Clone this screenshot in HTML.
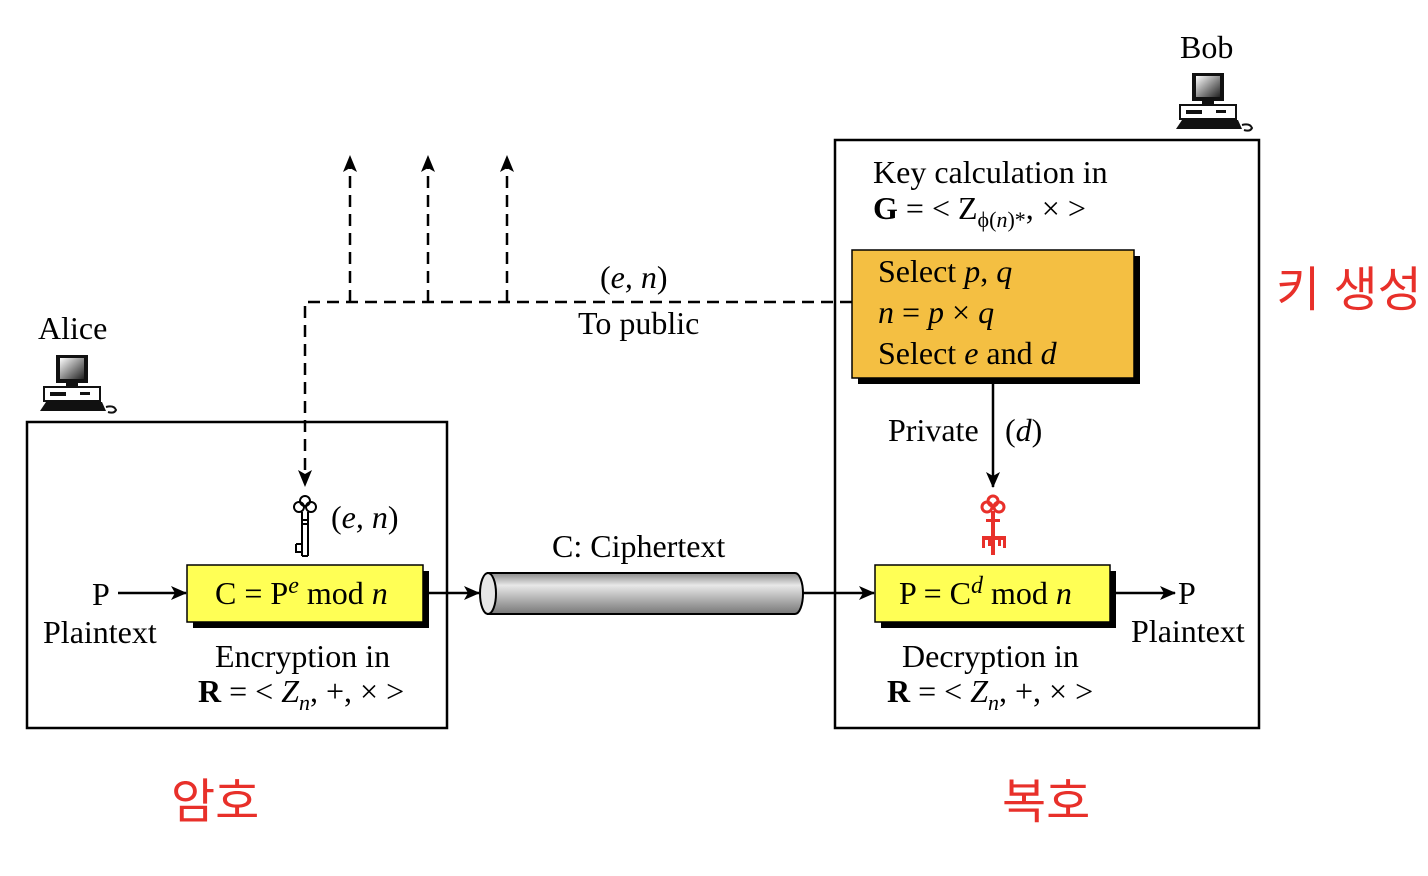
<!DOCTYPE html>
<html><head><meta charset="utf-8"><style>
html,body{margin:0;padding:0;background:#fff;}
svg{display:block;}
text{font-family:"Liberation Serif",serif;font-size:32px;fill:#000;}
.k{font-family:"Liberation Sans","Noto Sans CJK KR","NanumGothic",sans-serif;font-size:48px;fill:#e8302a;}
</style></head><body>
<svg width="1428" height="876" viewBox="0 0 1428 876" xmlns="http://www.w3.org/2000/svg">
<defs>
<marker id="ah" markerWidth="10" markerHeight="10" refX="9" refY="5" orient="auto" markerUnits="userSpaceOnUse">
<path d="M0,0 L10,5 L0,10 L3,5 z" fill="#000"/></marker>
<marker id="ah2" markerWidth="16" markerHeight="14" refX="15" refY="7" orient="auto" markerUnits="userSpaceOnUse">
<path d="M0,0 L16,7 L0,14 L4,7 z" fill="#000"/></marker>
<linearGradient id="cyl" x1="0" y1="0" x2="0" y2="1">
<stop offset="0" stop-color="#8a8a8a"/><stop offset="0.3" stop-color="#e8e8e8"/><stop offset="1" stop-color="#777"/></linearGradient>
<linearGradient id="scr" x1="0" y1="0" x2="1" y2="1">
<stop offset="0" stop-color="#fff"/><stop offset="1" stop-color="#222"/></linearGradient>
<g id="pc">
<rect x="16" y="0" width="32" height="28" fill="#111"/>
<rect x="20" y="3" width="24" height="21" fill="url(#scr)"/>
<rect x="26" y="28" width="12" height="4" fill="#111"/>
<rect x="4" y="32" width="56" height="14" fill="#fff" stroke="#111" stroke-width="2"/>
<rect x="10" y="37" width="16" height="4" fill="#111"/>
<rect x="40" y="37" width="10" height="3" fill="#111"/>
<path d="M0,56 L6,47 L62,47 L66,56 z" fill="#111"/>
<path d="M66,52 q8,-2 10,3 q-2,4 -8,2" fill="none" stroke="#111" stroke-width="2"/>
</g>
</defs>

<rect x="27" y="422" width="420" height="306" fill="none" stroke="#000" stroke-width="2.5"/>
<rect x="835" y="140" width="424" height="588" fill="none" stroke="#000" stroke-width="2.5"/>

<use href="#pc" x="40" y="355"/>
<use href="#pc" x="1176" y="73"/>
<text x="38" y="339">Alice</text>
<text x="1180" y="58">Bob</text>

<g stroke="#000" stroke-width="2.5" stroke-dasharray="12,7" fill="none">
<path d="M852,302 H305 V478"/>
<path d="M350,302 V165"/>
<path d="M428,302 V165"/>
<path d="M507,302 V165"/>
</g>
<g fill="#000">
<path d="M343,172 L350,155 L357,172 L350,168 z"/>
<path d="M421,172 L428,155 L435,172 L428,168 z"/>
<path d="M500,172 L507,155 L514,172 L507,168 z"/>
<path d="M298,470 L305,487 L312,470 L305,474 z"/>
</g>
<text x="600" y="288">(<tspan font-style="italic">e, n</tspan>)</text>
<text x="578" y="334">To public</text>

<text x="873" y="183">Key calculation in</text>
<text x="873" y="219"><tspan font-weight="bold">G</tspan> = &lt; Z<tspan font-size="22" dy="8">ϕ(<tspan font-style="italic">n</tspan>)*</tspan><tspan dy="-8">, × &gt;</tspan></text>
<rect x="858" y="256" width="282" height="128" fill="#000"/>
<rect x="852" y="250" width="282" height="128" fill="#f4bf42" stroke="#000" stroke-width="1.5"/>
<text x="878" y="282">Select <tspan font-style="italic">p</tspan>, <tspan font-style="italic">q</tspan></text>
<text x="878" y="323" font-style="italic">n <tspan font-style="normal">=</tspan> p <tspan font-style="normal">×</tspan> q</text>
<text x="878" y="364">Select <tspan font-style="italic">e</tspan> and <tspan font-style="italic">d</tspan></text>

<line x1="993" y1="384" x2="993" y2="487" stroke="#000" stroke-width="2.5" marker-end="url(#ah2)"/>
<text x="888" y="441">Private</text>
<text x="1005" y="441">(<tspan font-style="italic">d</tspan>)</text>

<g fill="none" stroke="#e8302a" stroke-width="3">
<circle cx="987" cy="507" r="5"/><circle cx="999" cy="507" r="5"/><circle cx="993" cy="501" r="5"/>
</g>
<g fill="#e8302a">
<rect x="991" y="511" width="4" height="44"/>
<rect x="986" y="519" width="14" height="3"/>
<rect x="982" y="536" width="24" height="4"/>
<rect x="982" y="540" width="3" height="8"/><rect x="988" y="540" width="3" height="6"/><rect x="998" y="540" width="3" height="6"/><rect x="1003" y="540" width="3" height="8"/>
</g>

<g fill="none" stroke="#000" stroke-width="2">
<circle cx="299" cy="507" r="5"/><circle cx="311" cy="507" r="5"/><circle cx="305" cy="501" r="5"/>
<path d="M302,512 V556 M308,512 V556 M302,556 H308"/>
<path d="M301,520 H309 M301,524 H309 M296,544 H302 M296,544 V552 H302"/>
</g>
<text x="331" y="528">(<tspan font-style="italic">e, n</tspan>)</text>

<rect x="193" y="571" width="236" height="57" fill="#000"/>
<rect x="187" y="565" width="236" height="57" fill="#ffff55" stroke="#000" stroke-width="1.5"/>
<text x="215" y="604">C = P<tspan font-size="24" dy="-11" font-style="italic">e</tspan><tspan dy="11"> mod </tspan><tspan font-style="italic">n</tspan></text>
<text x="92" y="605">P</text>
<line x1="118" y1="593" x2="186" y2="593" stroke="#000" stroke-width="2.5" marker-end="url(#ah2)"/>
<text x="43" y="643">Plaintext</text>
<text x="215" y="667">Encryption in</text>
<text x="198" y="702"><tspan font-weight="bold">R</tspan> = &lt; <tspan font-style="italic">Z</tspan><tspan font-size="22" dy="8" font-style="italic">n</tspan><tspan dy="-8">, +, × &gt;</tspan></text>

<line x1="429" y1="593" x2="479" y2="593" stroke="#000" stroke-width="2.5" marker-end="url(#ah2)"/>

<path d="M488,573 H795 A8,20.5 0 0 1 795,614 H488 z" fill="url(#cyl)" stroke="#000" stroke-width="2"/>
<ellipse cx="488" cy="593.5" rx="8" ry="20.5" fill="#e6e6e6" stroke="#000" stroke-width="2"/>
<text x="552" y="557">C: Ciphertext</text>
<line x1="803" y1="593" x2="874" y2="593" stroke="#000" stroke-width="2.5" marker-end="url(#ah2)"/>

<rect x="881" y="571" width="235" height="57" fill="#000"/>
<rect x="875" y="565" width="235" height="57" fill="#ffff55" stroke="#000" stroke-width="1.5"/>
<text x="899" y="604">P = C<tspan font-size="24" dy="-11" font-style="italic">d</tspan><tspan dy="11"> mod </tspan><tspan font-style="italic">n</tspan></text>
<line x1="1116" y1="593" x2="1175" y2="593" stroke="#000" stroke-width="2.5" marker-end="url(#ah2)"/>
<text x="1178" y="604">P</text>
<text x="1131" y="642">Plaintext</text>
<text x="902" y="667">Decryption in</text>
<text x="887" y="702"><tspan font-weight="bold">R</tspan> = &lt; <tspan font-style="italic">Z</tspan><tspan font-size="22" dy="8" font-style="italic">n</tspan><tspan dy="-8">, +, × &gt;</tspan></text>

<text class="k" x="1276" y="306">키 생성</text>
<text class="k" x="171" y="818">암호</text>
<text class="k" x="1002" y="818">복호</text>
</svg>
</body></html>
